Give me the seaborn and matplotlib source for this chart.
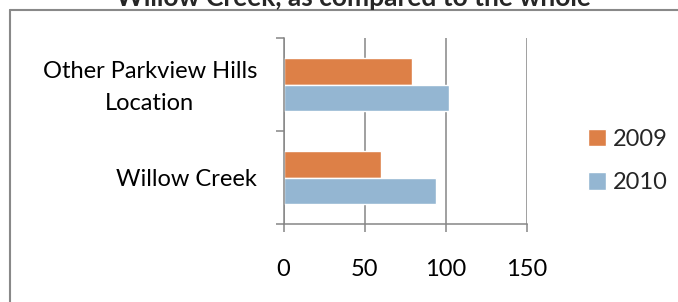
import matplotlib
matplotlib.use("Agg")
import matplotlib.pyplot as plt
import matplotlib.transforms as mtransforms
import seaborn as sns
import pandas as pd
from matplotlib.lines import Line2D
from matplotlib.ticker import FixedLocator

# data
locations = ["Other Parkview Hills\nLocation", "Willow Creek"]
years = ["2009", "2010"]
values_2009 = [79, 60]
values_2010 = [102, 94]
x_ticks = [0, 50, 100, 150]

df = pd.DataFrame({
    "Location": locations * 2,
    "Year": [years[0]] * 2 + [years[1]] * 2,
    "Value": values_2009 + values_2010,
})

sns.set_style("white")
plt.rcParams["font.family"] = ["Lato", "DejaVu Sans"]

fig = plt.figure(figsize=(6.78, 3.02), dpi=100)
ax = fig.add_axes([283.5 / 678, 1 - 224 / 302, (526.7 - 283.5) / 678, (224 - 38) / 302])

palette = {"2009": "#DD8047", "2010": "#94B6D2"}
sns.barplot(data=df, x="Value", y="Location", hue="Year", order=locations,
            hue_order=years, palette=palette, orient="h", width=0.57,
            saturation=1, ax=ax, legend=True)

ax.set_xlim(0, 150)
ax.set_ylim(1.5, -0.5)
ax.set_xticks(x_ticks)
ax.set_xticklabels([str(t) for t in x_ticks])
ax.xaxis.grid(True, color="#868686", linewidth=1.1)
ax.set_axisbelow(True)
ax.set_xlabel("")
ax.set_ylabel("")

for s in ["top", "right"]:
    ax.spines[s].set_visible(False)
for s in ["left", "bottom"]:
    ax.spines[s].set_color("#868686")
    ax.spines[s].set_linewidth(1.1)

ax.tick_params(axis="x", direction="out", length=6, width=1.1, color="#868686",
               pad=19, labelsize=17, labelcolor="black", bottom=True)
ax.yaxis.set_minor_locator(FixedLocator([-0.5, 0.5, 1.5]))
ax.tick_params(axis="y", which="minor", direction="out", length=6, width=1.1,
               color="#868686", left=True)
ax.tick_params(axis="y", which="major", length=0, pad=19, labelsize=17,
               labelcolor="black")

# two-line label sits a little high in the original
shift = mtransforms.ScaledTranslation(0, 5 / 100, fig.dpi_scale_trans)
for lab in ax.get_yticklabels():
    lab.set_multialignment("center")
    lab.set_linespacing(1.65)
    if "\n" in lab.get_text():
        lab.set_transform(lab.get_transform() + shift)

handles, labels = ax.get_legend_handles_labels()
ax.legend(handles, labels, loc="center left", bbox_to_anchor=(567 / 678, 1 - 161 / 302),
          bbox_transform=fig.transFigure, frameon=False, fontsize=17,
          handlelength=0.75, handleheight=0.75, handletextpad=0.3, labelspacing=0.95)

# chart border (extends past the picture on the right and bottom)
fig.add_artist(Line2D([9.5 / 678, 9.5 / 678], [0, 1 - 10 / 302], color="#898989",
                      linewidth=1.5, transform=fig.transFigure))
fig.add_artist(Line2D([9.5 / 678, 1], [1 - 10 / 302, 1 - 10 / 302], color="#898989",
                      linewidth=1.5, transform=fig.transFigure))

# title, mostly cut off at the top
fig.text(353 / 678, 1 - 6 / 302, "Willow Creek, as compared to the whole",
         ha="center", va="baseline", fontsize=19, fontweight="bold")

fig.savefig("out.png", dpi=100)
